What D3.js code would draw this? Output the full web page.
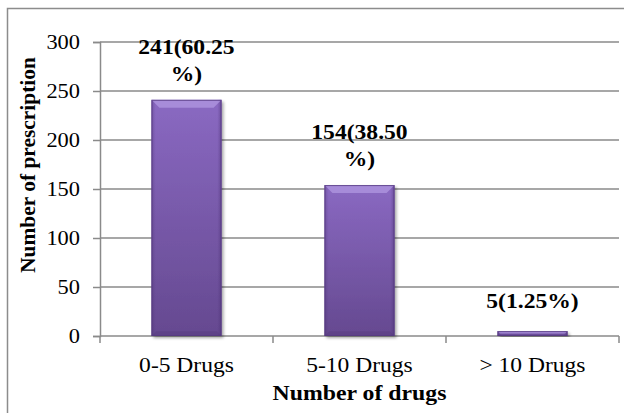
<!DOCTYPE html>
<html>
<head>
<meta charset="utf-8">
<script src="https://cdn.jsdelivr.net/npm/d3@7"></script>
<style>
  html, body { margin: 0; padding: 0; background: #fff; }
  svg { display: block; }
  text { font-family: "Liberation Serif", "Times New Roman", serif; fill: #000; }
</style>
</head>
<body>
<svg id="chart" width="624" height="413"></svg>
<script>
// Prescriptions grouped by the number of drugs prescribed
const categories = ["0-5 Drugs", "5-10 Drugs", "> 10 Drugs"];
const prescriptions = [241, 154, 5];
const percentages = [60.25, 38.50, 1.25];
const yTicks = [0, 50, 100, 150, 200, 250, 300];

const xTitle = "Number of drugs";
const yTitle = "Number of prescription";

const svg = d3.select("#chart");
const plot = { left: 100, right: 619, top: 42, bottom: 336 };

// Horizontal stretch applied to each text class
function stretch(sel, k) {
  sel.each(function () {
    const w = this.getComputedTextLength();
    d3.select(this).attr("textLength", w * k).attr("lengthAdjust", "spacingAndGlyphs");
  });
}

const defs = svg.append("defs");
const grad = defs.append("linearGradient").attr("id", "barFill")
  .attr("x1", 0).attr("y1", 0).attr("x2", 0).attr("y2", 1);
grad.append("stop").attr("offset", "0%").attr("stop-color", "#8a69c2");
grad.append("stop").attr("offset", "100%").attr("stop-color", "#654990");

const sideGrad = defs.append("linearGradient").attr("id", "sideShade")
  .attr("x1", 0).attr("y1", 0).attr("x2", 1).attr("y2", 0);
sideGrad.append("stop").attr("offset", "0%").attr("stop-color", "#4a2f72").attr("stop-opacity", 0.35);
sideGrad.append("stop").attr("offset", "6%").attr("stop-color", "#4a2f72").attr("stop-opacity", 0);
sideGrad.append("stop").attr("offset", "94%").attr("stop-color", "#4a2f72").attr("stop-opacity", 0);
sideGrad.append("stop").attr("offset", "100%").attr("stop-color", "#4a2f72").attr("stop-opacity", 0.45);

const shadow = defs.append("filter").attr("id", "barShadow")
  .attr("x", "-20%").attr("y", "-20%").attr("width", "140%").attr("height", "140%");
shadow.append("feDropShadow").attr("dx", 2).attr("dy", 2).attr("stdDeviation", 1.5)
  .attr("flood-color", "#000").attr("flood-opacity", 0.35);

// Outer chart frame
svg.append("rect")
  .attr("x", 7.5).attr("y", 8.5).attr("width", 640).attr("height", 440)
  .attr("fill", "none").attr("stroke", "#8c8c8c").attr("stroke-width", 1.5);

const x = d3.scaleBand()
  .domain(categories)
  .range([plot.left, plot.right])
  .paddingInner(0.595)
  .paddingOuter(0.2975);

const y = d3.scaleLinear()
  .domain([0, 300])
  .range([plot.bottom, plot.top]);

// Gridlines
svg.append("g")
  .selectAll("line")
  .data(yTicks.filter(d => d > 0))
  .join("line")
  .attr("x1", plot.left).attr("x2", plot.right)
  .attr("y1", d => y(d)).attr("y2", d => y(d))
  .attr("stroke", "#8a8a8a").attr("stroke-width", 1.5);

// Y axis
const yAxis = svg.append("g")
  .attr("transform", `translate(${plot.left},0)`)
  .call(d3.axisLeft(y).tickValues(yTicks).tickSize(7).tickPadding(13));
yAxis.select(".domain").attr("stroke", "#8a8a8a").attr("stroke-width", 1.5);
yAxis.selectAll(".tick line").attr("stroke", "#8a8a8a").attr("stroke-width", 1.5);
yAxis.selectAll(".tick text")
  .attr("font-family", "Liberation Serif, Times New Roman, serif")
  .attr("font-size", 20).attr("fill", "#000").attr("dy", "0.33em")
  .call(stretch, 1.12);

// X axis with ticks at category boundaries
const step = x.step();
const boundaries = d3.range(categories.length + 1).map(i => plot.left + i * step);
const xAxis = svg.append("g");
xAxis.append("line")
  .attr("x1", plot.left).attr("x2", plot.right)
  .attr("y1", plot.bottom).attr("y2", plot.bottom)
  .attr("stroke", "#8a8a8a").attr("stroke-width", 1.5);
xAxis.selectAll("line.tk")
  .data(boundaries)
  .join("line").attr("class", "tk")
  .attr("x1", d => d).attr("x2", d => d)
  .attr("y1", plot.bottom).attr("y2", plot.bottom + 7)
  .attr("stroke", "#8a8a8a").attr("stroke-width", 1.5);
xAxis.selectAll("text")
  .data(categories)
  .join("text")
  .attr("x", d => x(d) + x.bandwidth() / 2)
  .attr("y", plot.bottom + 36)
  .attr("text-anchor", "middle")
  .attr("font-size", 21)
  .text(d => d)
  .call(stretch, 1.12);

// Bars
const bars = svg.append("g");
categories.forEach((c, i) => {
  const v = prescriptions[i];
  const bx = x(c), bw = x.bandwidth();
  const by = y(v), bh = y(0) - y(v);
  const g = bars.append("g");
  g.append("rect")
    .attr("x", bx).attr("y", by).attr("width", bw).attr("height", bh)
    .attr("fill", "url(#barFill)").attr("filter", "url(#barShadow)");
  g.append("rect")
    .attr("x", bx).attr("y", by).attr("width", bw).attr("height", bh)
    .attr("fill", "url(#sideShade)");
  // Bevelled top and bottom edges
  const bev = Math.min(8, bh / 2);
  g.append("path")
    .attr("d", `M${bx},${by} L${bx + bw},${by} L${bx + bw - bev},${by + bev} L${bx + bev},${by + bev} Z`)
    .attr("fill", "#c0a9ec").attr("opacity", 0.55);
  g.append("path")
    .attr("d", `M${bx},${by + bh} L${bx + bw},${by + bh} L${bx + bw - bev * 0.6},${by + bh - bev * 0.6} L${bx + bev * 0.6},${by + bh - bev * 0.6} Z`)
    .attr("fill", "#4b3170").attr("opacity", 0.25);
  g.append("rect")
    .attr("x", bx + 0.5).attr("y", by + 0.5).attr("width", bw - 1).attr("height", Math.max(0, bh - 1))
    .attr("fill", "none").attr("stroke", "#553a80").attr("stroke-width", 1).attr("opacity", 0.8);
});

// Value labels, wrapped before the "%" when too long for one line
const labels = svg.append("g");
categories.forEach((c, i) => {
  const full = `${prescriptions[i]}(${percentages[i].toFixed(2)}%)`;
  const cut = full.lastIndexOf("%");
  const lines = full.length > 8 ? [full.slice(0, cut), full.slice(cut)] : [full];
  const cx = x(c) + x.bandwidth() / 2;
  const base = y(prescriptions[i]) - (lines.length > 1 ? 19 : 23);
  lines.forEach((ln, j) => {
    labels.append("text")
      .attr("x", cx)
      .attr("y", base - (lines.length - 1 - j) * 27)
      .attr("text-anchor", "middle")
      .attr("font-size", 20).attr("font-weight", "bold")
      .text(ln)
      .call(stretch, 1.18);
  });
});

// Axis titles
svg.append("text")
  .attr("x", (plot.left + plot.right) / 2)
  .attr("y", 400)
  .attr("text-anchor", "middle")
  .attr("font-size", 22).attr("font-weight", "bold")
  .text(xTitle)
  .call(stretch, 1.08);

svg.append("text")
  .attr("transform", `translate(35,165) rotate(-90)`)
  .attr("text-anchor", "middle")
  .attr("font-size", 21).attr("font-weight", "bold")
  .text(yTitle)
  .call(stretch, 1.02);
</script>
</body>
</html>
